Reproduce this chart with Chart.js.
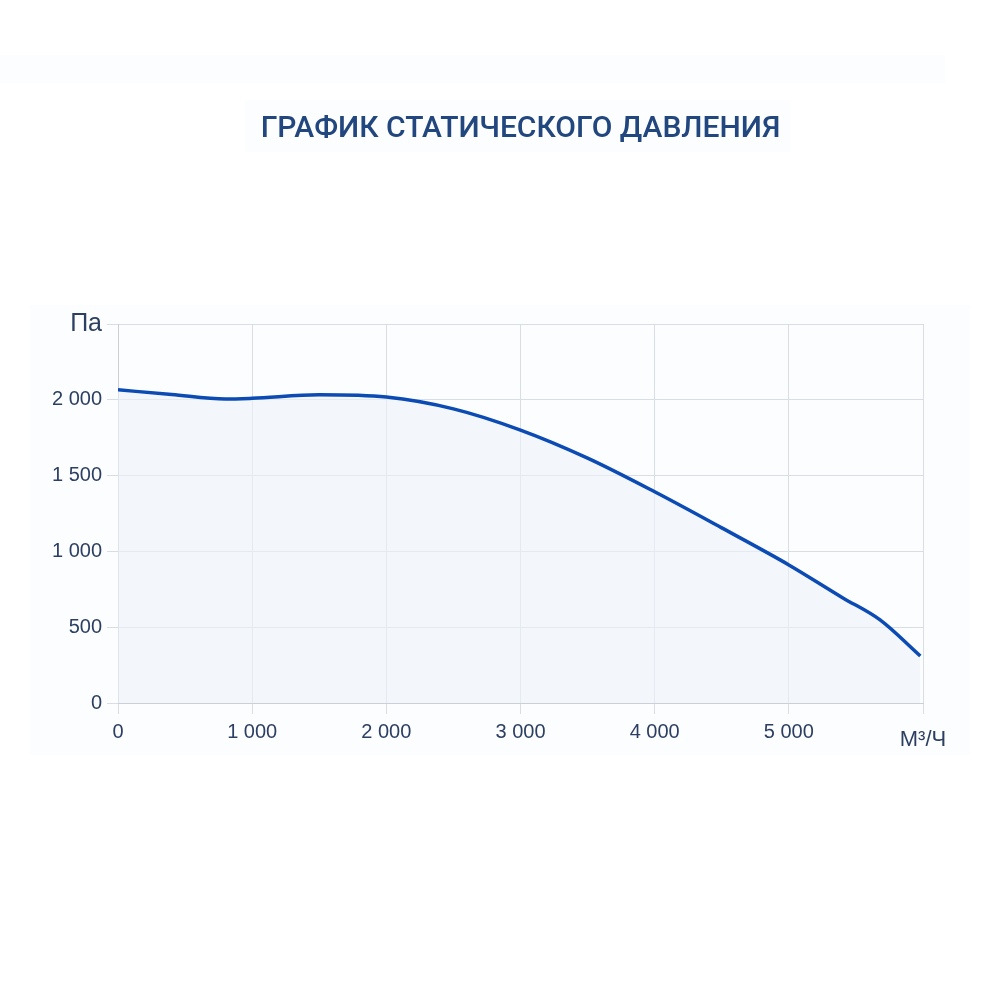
<!DOCTYPE html>
<html>
<head>
<meta charset="utf-8">
<script src="https://cdn.jsdelivr.net/npm/chart.js@4"></script>
<style>
  html, body { margin: 0; padding: 0; background: #ffffff; }
  #wrap { position: relative; width: 1000px; height: 1000px; }
  #panel1 { position: absolute; left: 0; top: 55px; width: 945px; height: 28px; background: #fcfdfe; }
  #panel3 { position: absolute; left: 245px; top: 100px; width: 545px; height: 52px; background: #fcfdfe; }
  #panel2 { position: absolute; left: 30px; top: 305px; width: 940px; height: 450px; background: #fcfdfe; }
  canvas { position: absolute; left: 0; top: 0; }
</style>
</head>
<body>
<div id="wrap">
  <div id="panel1"></div>
  <div id="panel3"></div>
  <div id="panel2"></div>
  <canvas id="c" width="1000" height="1000"></canvas>
</div>
<script>
const titleText = 'ГРАФИК СТАТИЧЕСКОГО ДАВЛЕНИЯ';
const flow = [0, 400, 800, 1000, 1500, 2000, 2500, 3000, 3500, 4000, 4500, 5000, 5400, 5680, 5980];
const pressure = [2066, 2035, 2005, 2010, 2033, 2018, 1940, 1800, 1615, 1393, 1155, 911, 695, 548, 310];
const xUnit = 'М³/Ч';
const yUnit = 'Па';
const xMax = 6000, xStep = 1000;
const yMax = 2500, yStep = 500;

function fmt(v) {
  return String(v).replace(/\B(?=(\d{3})+(?!\d))/g, ' ');
}

const points = flow.map((x, i) => ({ x: x, y: pressure[i] }));
const textColor = '#2c3f62';
const gridColor = '#d9dde4';
const tickFont = { family: 'Liberation Sans', size: 20, lineHeight: 1.2 };

new Chart(document.getElementById('c'), {
  type: 'line',
  data: {
    datasets: [{
      data: points,
      borderColor: '#0b4bb3',
      borderWidth: 3.5,
      backgroundColor: 'rgba(236,241,249,0.6)',
      fill: 'origin',
      pointRadius: 0,
      cubicInterpolationMode: 'monotone'
    }]
  },
  options: {
    responsive: false,
    animation: false,
    layout: { padding: { top: 111, left: 0, right: 77, bottom: 237 } },
    plugins: {
      legend: { display: false },
      tooltip: { enabled: false },
      title: {
        display: true,
        text: titleText,
        fullSize: false,
        color: '#22467e',
        font: { family: 'Roboto', size: 30, weight: '500', lineHeight: 1.2 },
        padding: { top: 0, bottom: 177 }
      }
    },
    scales: {
      x: {
        type: 'linear',
        min: 0,
        max: xMax,
        afterFit: s => { s.height = 60; },
        ticks: {
          stepSize: xStep,
          padding: 6,
          color: textColor,
          font: ctx => (ctx.tick && ctx.tick.value === xMax)
            ? { family: 'Liberation Sans', size: 22, lineHeight: 1.8 }
            : tickFont,
          callback: v => v === xMax ? xUnit : fmt(v)
        },
        grid: { color: gridColor, tickLength: 11, lineWidth: 1 },
        border: { color: '#cbd0d8' }
      },
      y: {
        min: 0,
        max: yMax,
        afterFit: s => { s.width = 118; },
        ticks: {
          stepSize: yStep,
          padding: 5,
          color: textColor,
          font: ctx => (ctx.tick && ctx.tick.value === yMax)
            ? { family: 'Liberation Sans', size: 25 }
            : tickFont,
          callback: v => v === yMax ? yUnit : fmt(v)
        },
        grid: { color: gridColor, tickLength: 11, lineWidth: 1 },
        border: { color: '#cbd0d8' }
      }
    }
  }
});
</script>
</body>
</html>
